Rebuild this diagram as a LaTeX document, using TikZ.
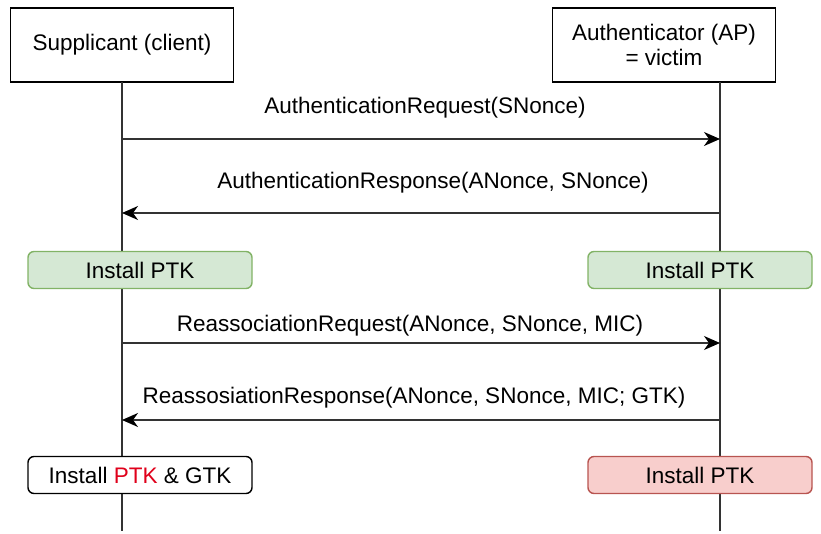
\documentclass[tikz,border=0pt]{standalone}
\usepackage{fontspec}
\setmainfont{Liberation Sans}
\usetikzlibrary{arrows.meta}
\definecolor{lineclr}{HTML}{333333}
\definecolor{greenfill}{HTML}{D5E8D4}
\definecolor{greenline}{HTML}{82B366}
\definecolor{redfill}{HTML}{F8CECC}
\definecolor{redline}{HTML}{B85450}
\definecolor{ptkred}{HTML}{E0001B}
\begin{document}
\begin{tikzpicture}[x=1pt,y=-1pt,
  every node/.style={font=\fontsize{22.5}{26}\selectfont, inner sep=0pt},
  actor/.style={draw=black, line width=1.6pt, fill=white, minimum width=223pt, minimum height=74pt, align=center},
  lifeline/.style={draw=lineclr, line width=1.6pt},
  msg/.style={draw=lineclr, line width=1.6pt, -{Stealth[length=16pt, width=14pt, inset=5pt, color=black]}},
  label/.style={text=black},
  statebox/.style={rounded corners=6pt, line width=1.4pt, minimum width=224pt, minimum height=37pt},
  greenbox/.style={statebox, draw=greenline, fill=greenfill},
  redbox/.style={statebox, draw=redline, fill=redfill},
  plainbox/.style={statebox, draw=black, fill=white}]
  \useasboundingbox (0,0) rectangle (821,534);

  % participants
  \node[actor] (sup) at (122,45) {Supplicant (client)};
  \node[actor] (auth) at (664,45) {Authenticator (AP)\\[-1pt]= victim};

  % lifeline ends
  \coordinate (supEnd) at (122,531);
  \coordinate (authEnd) at (720,531);
  \draw[lifeline] (122,82) -- (supEnd);
  \draw[lifeline] (720,82) -- (authEnd);

  % message anchor points on the lifelines
  \coordinate (s1) at (122,139); \coordinate (a1) at (720,139);
  \coordinate (s2) at (122,213); \coordinate (a2) at (720,213);
  \coordinate (s3) at (122,343); \coordinate (a3) at (720,343);
  \coordinate (s4) at (122,420); \coordinate (a4) at (720,420);

  % messages
  \draw[msg] (s1) -- (a1);
  \node[label] (m1) at (425,108) {AuthenticationRequest(SNonce)};
  \draw[msg] (a2) -- (s2);
  \node[label] (m2) at (433,183) {AuthenticationResponse(ANonce, SNonce)};
  \draw[msg] (s3) -- (a3);
  \node[label] (m3) at (410,326) {ReassociationRequest(ANonce, SNonce, MIC)};
  \draw[msg] (a4) -- (s4);
  \node[label] (m4) at (414,398) {ReassosiationResponse(ANonce, SNonce, MIC; GTK)};

  % key installation states
  \node[greenbox] (ptkS) at (140,270) {Install PTK};
  \node[greenbox] (ptkA) at (700,270) {Install PTK};
  \node[plainbox] (gtkS) at (140,475) {Install \textcolor{ptkred}{PTK} \& GTK};
  \node[redbox] (ptkA2) at (700,475) {Install PTK};
\end{tikzpicture}
\end{document}
